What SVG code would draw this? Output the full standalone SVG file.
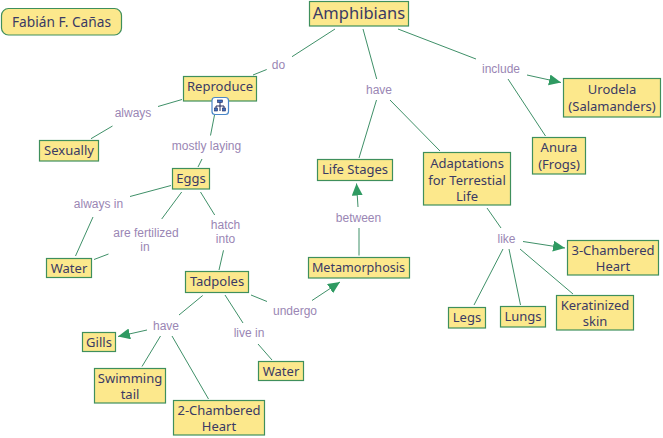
<svg xmlns="http://www.w3.org/2000/svg" width="663" height="438" viewBox="0 0 663 438">
<style>
.n{fill:#fce88c;stroke:#3f8f5c;stroke-width:1.2}
.t{font-family:"Noto Sans","DejaVu Sans",sans-serif;font-size:13px;fill:#3a3a64;text-anchor:middle}
.l{font-family:"Liberation Sans",Arial,sans-serif;font-size:12px;fill:#9a86b4;text-anchor:middle}
.c{fill:none;stroke:#3f9068;stroke-width:1}
.a{marker-end:url(#ah)}
</style>
<defs>
<marker id="ah" markerUnits="userSpaceOnUse" markerWidth="13" markerHeight="12" refX="12" refY="5.5" orient="auto"><path d="M0,0L12,5.500L0,11Z" fill="#2f9a62"/></marker>
</defs>
<rect width="663" height="438" fill="#fff"/>
<g id="connectors">
<path class="c" d="M335,29L292,56.700M266.700,69.500L253,75"/>
<path class="c" d="M182,99.500L158,106.500M112.500,126L91,138.700"/>
<path class="c" d="M214.500,115L210.500,135.500M202,159L198,167"/>
<path class="c" d="M171,185.500L130,196.500M93,217L75.500,256"/>
<path class="c" d="M181.700,192L161.700,219M108.500,254L94,259.500"/>
<path class="c" d="M200.500,192L214.700,215M223.500,250.300L219,270"/>
<path class="c" d="M363,29L376.700,79M376.500,100L359,158M390,100L440,151"/>
<path class="c" d="M398,29L476,59M508,79L545.500,136"/>
<path class="c a" d="M527,75L561,82.500"/>
<path class="c" d="M359,228L359,255.500"/>
<path class="c a" d="M358,207L356.500,183.500"/>
<path class="c" d="M487,208L501,228"/>
<path class="c a" d="M523,241.500L565,248"/>
<path class="c" d="M503,249L474,305M509,249L520.500,305M520,249L573,294"/>
<path class="c" d="M202.700,295.500L179,315M225,295L243,323M258,344L272,360M251,295L267,301.500"/>
<path class="c a" d="M312,300.500L340,282"/>
<path class="c a" d="M147,330L118,336.500"/>
<path class="c" d="M160.500,336L142,366.500M172,336L208.500,399"/>
</g>
<g id="labels">
<text class="l" x="278.500" y="69">do</text>
<text class="l" x="133" y="117">always</text>
<text class="l" x="206.500" y="150">mostly laying</text>
<text class="l" x="98.500" y="208">always in</text>
<text class="l" x="146" y="237">are fertilized</text>
<text class="l" x="145" y="251">in</text>
<text class="l" x="225.500" y="229">hatch</text>
<text class="l" x="225.500" y="243">into</text>
<text class="l" x="379" y="94">have</text>
<text class="l" x="501" y="73">include</text>
<text class="l" x="358.500" y="222">between</text>
<text class="l" x="506.500" y="243">like</text>
<text class="l" x="295" y="315">undergo</text>
<text class="l" x="166" y="330">have</text>
<text class="l" x="249" y="337">live in</text>
</g>
<g id="n-author"><rect class="n" x="1.500" y="8.500" width="120" height="26.500" rx="7"/><text class="t" style="font-size:13.700px" x="61.500" y="27">Fabián F. Cañas</text></g>
<g id="n-amphibians"><rect class="n" x="309.500" y="1.500" width="99" height="24.500"/><text class="t" style="font-size:16.500px" x="359" y="19">Amphibians</text></g>
<g id="n-reproduce"><rect class="n" x="183.500" y="76.500" width="73" height="24.500"/><text class="t" x="220" y="91">Reproduce</text></g>
<g id="n-sexually"><rect class="n" x="39.500" y="140.500" width="59" height="20.500"/><text class="t" x="69" y="155">Sexually</text></g>
<g id="n-eggs"><rect class="n" x="172.500" y="168.500" width="37" height="20.500"/><text class="t" x="191" y="183">Eggs</text></g>
<g id="n-lifestages"><rect class="n" x="317.500" y="159.500" width="75" height="21"/><text class="t" x="355" y="174">Life Stages</text></g>
<g id="n-adaptations"><rect class="n" x="423.500" y="152.500" width="87" height="52.500"/><text class="t" x="467" y="168">Adaptations</text><text class="t" x="467" y="184.500">for Terrestial</text><text class="t" x="467" y="201">Life</text></g>
<g id="n-urodela"><rect class="n" x="563.500" y="78.500" width="97" height="38.500"/><text class="t" x="612" y="94">Urodela</text><text class="t" x="612" y="111">(Salamanders)</text></g>
<g id="n-anura"><rect class="n" x="532.500" y="137.500" width="53" height="36.500"/><text class="t" x="559" y="152">Anura</text><text class="t" x="559" y="168.500">(Frogs)</text></g>
<g id="n-water1"><rect class="n" x="46.500" y="258.500" width="45" height="19"/><text class="t" x="69" y="273">Water</text></g>
<g id="n-tadpoles"><rect class="n" x="185.500" y="271.500" width="63" height="21"/><text class="t" x="217" y="286">Tadpoles</text></g>
<g id="n-metamorphosis"><rect class="n" x="308.500" y="257.500" width="101" height="20.500"/><text class="t" style="font-size:12.600px" x="358.500" y="272">Metamorphosis</text></g>
<g id="n-gills"><rect class="n" x="82.500" y="332.500" width="33" height="19"/><text class="t" x="99" y="347">Gills</text></g>
<g id="n-swimming"><rect class="n" x="94.500" y="368.500" width="71" height="34.500"/><text class="t" x="130" y="382.500">Swimming</text><text class="t" x="130" y="399">tail</text></g>
<g id="n-heart2"><rect class="n" x="173.500" y="400.500" width="91" height="34.500"/><text class="t" x="219" y="414.500">2-Chambered</text><text class="t" x="219" y="431">Heart</text></g>
<g id="n-water2"><rect class="n" x="258.500" y="361.500" width="45" height="19"/><text class="t" x="281" y="376">Water</text></g>
<g id="n-heart3"><rect class="n" x="567.500" y="240.500" width="91" height="34.500"/><text class="t" x="613" y="254.500">3-Chambered</text><text class="t" x="613" y="271">Heart</text></g>
<g id="n-legs"><rect class="n" x="448.500" y="307.500" width="37" height="20.500"/><text class="t" x="467" y="321.500">Legs</text></g>
<g id="n-lungs"><rect class="n" x="500.500" y="306.500" width="45" height="20.500"/><text class="t" x="523" y="321">Lungs</text></g>
<g id="n-keratinized"><rect class="n" x="556.500" y="295.500" width="77" height="34.500"/><text class="t" x="595" y="309.500">Keratinized</text><text class="t" x="595" y="326">skin</text></g>
<g id="icon">
<rect x="212" y="97.500" width="16.500" height="17" rx="3" fill="#fff" stroke="#4a86c8" stroke-width="1.200"/>
<path d="M220,102V105M216,108V106H224V108M220,105V111" fill="none" stroke="#22285c" stroke-width="1"/>
<rect x="217.500" y="100" width="5" height="2.500" fill="#3d6fc0" stroke="#22285c" stroke-width=".6"/>
<rect x="214.500" y="108" width="3" height="3" fill="#3d6fc0" stroke="#22285c" stroke-width=".6"/>
<rect x="222.500" y="108" width="3" height="3" fill="#3d6fc0" stroke="#22285c" stroke-width=".6"/>
</g>
</svg>
